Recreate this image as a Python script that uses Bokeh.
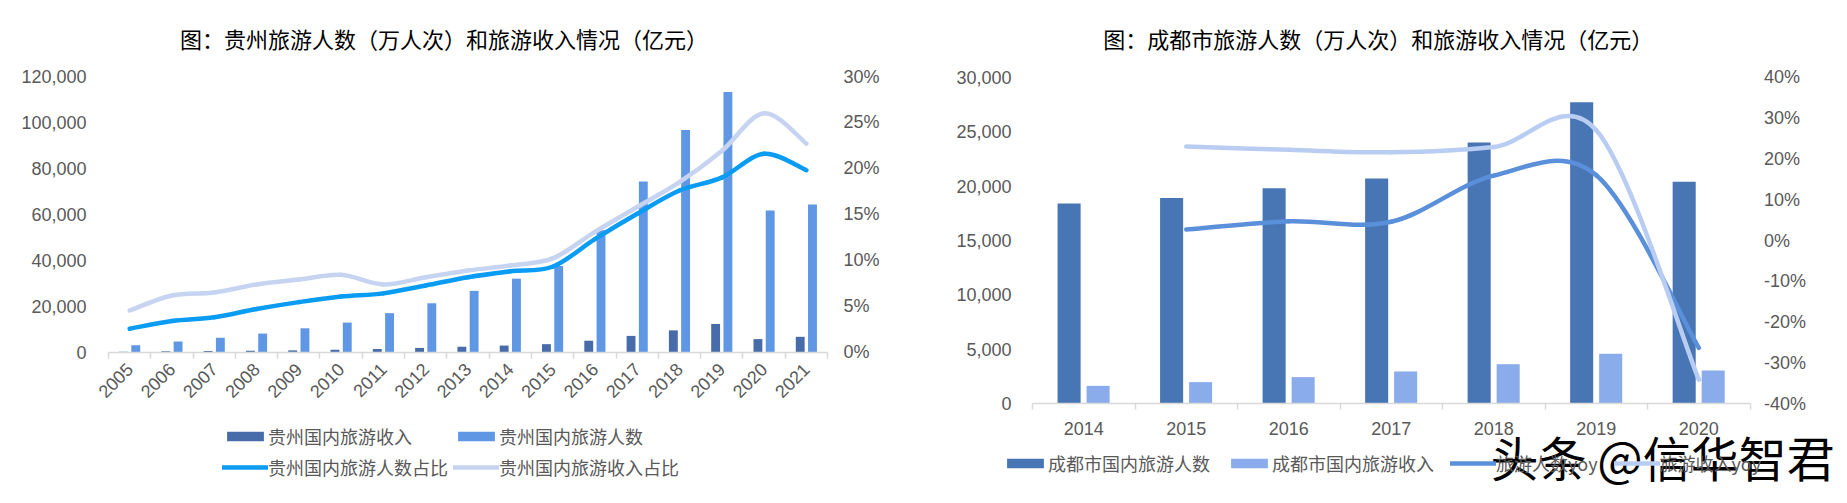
import math
from bokeh.plotting import figure
from bokeh.layouts import row
from bokeh.models import (ColumnDataSource, Range1d, LinearAxis, FixedTicker,
                          NumeralTickFormatter, PrintfTickFormatter, Label, Legend, LegendItem)
from bokeh.transform import dodge
from bokeh.embed import file_html
from bokeh.resources import INLINE

# ---------------- data: Guizhou ----------------
gz_years = ["2005", "2006", "2007", "2008", "2009", "2010", "2011", "2012", "2013",
            "2014", "2015", "2016", "2017", "2018", "2019", "2020", "2021"]
gz_income = [200, 390, 500, 650, 800, 1060, 1400, 1860, 2370, 2890, 3500,
             5000, 7100, 9500, 12300, 5700, 6700]            # 亿元
gz_visitors = [3000, 4700, 6300, 8100, 10400, 12900, 17000, 21300, 26700, 32000, 37500,
               53100, 74300, 96700, 113300, 61700, 64300]    # 万人次
gz_visitor_share = [2.55, 3.4, 3.8, 4.7, 5.45, 6.06, 6.4, 7.26, 8.16, 8.8, 9.3,
                    12.3, 15.06, 17.6, 19.0, 21.6, 19.8]      # %
gz_income_share = [4.54, 6.17, 6.5, 7.37, 7.9, 8.42, 7.37, 8.16, 8.89, 9.43, 10.2,
                   13.1, 15.8, 18.5, 21.9, 26.0, 22.7]        # %
gz_left_ticks = [0, 20000, 40000, 60000, 80000, 100000, 120000]
gz_right_ticks = [0, 5, 10, 15, 20, 25, 30]

# ---------------- data: Chengdu ----------------
cd_years = ["2014", "2015", "2016", "2017", "2018", "2019", "2020"]
cd_visitors = [18400, 18900, 19800, 20700, 24000, 27700, 20400]   # 万人次
cd_income = [1650, 1990, 2450, 2970, 3640, 4600, 3060]            # 亿元
cd_growth_years = ["2015", "2016", "2017", "2018", "2019", "2020"]
cd_visitor_growth = [2.7, 4.7, 4.6, 15.9, 16.0, -26.3]            # %
cd_income_growth = [23.0, 22.2, 21.6, 22.9, 27.0, -34.1]          # %
cd_left_ticks = [0, 5000, 10000, 15000, 20000, 25000, 30000]
cd_right_ticks = [-40, -30, -20, -10, 0, 10, 20, 30, 40]

GRAY = "#595959"
AXIS = "#D9D9D9"
NUM_FONT = "Liberation Sans"
CJK_FONT = "Noto Sans CJK SC"
H = 503


def xspan(v0, v1, px0, px1, width):
    """Range so that value v0 sits at pixel px0 and v1 at px1 (from left)."""
    k = (v1 - v0) / (px1 - px0)
    return Range1d(v0 - px0 * k, v1 + (width - px1) * k)


def yspan(v_top, v_bot, py_top, py_bot):
    """Range so that v_top sits at pixel py_top and v_bot at py_bot (from top)."""
    k = (v_top - v_bot) / (py_bot - py_top)
    return Range1d(v_bot - (H - py_bot) * k, v_top + py_top * k)


def smooth_segments(xs, ys):
    """Catmull-Rom style bezier control points (rendering only)."""
    n = len(xs)
    d = dict(x0=[], y0=[], x1=[], y1=[], cx0=[], cy0=[], cx1=[], cy1=[])
    for i in range(n - 1):
        xp, yp = (xs[i - 1], ys[i - 1]) if i > 0 else (xs[i], ys[i])
        xn, yn = (xs[i + 2], ys[i + 2]) if i + 2 < n else (xs[i + 1], ys[i + 1])
        d["x0"].append(xs[i]); d["y0"].append(ys[i])
        d["x1"].append(xs[i + 1]); d["y1"].append(ys[i + 1])
        d["cx0"].append(xs[i] + (xs[i + 1] - xp) / 6.0)
        d["cy0"].append(ys[i] + (ys[i + 1] - yp) / 6.0)
        d["cx1"].append(xs[i + 1] - (xn - xs[i]) / 6.0)
        d["cy1"].append(ys[i + 1] - (yn - ys[i]) / 6.0)
    return ColumnDataSource(d)


def new_fig(width, xr, yr):
    p = figure(width=width, height=H, output_backend="svg", toolbar_location=None,
               x_range=xr, y_range=yr, x_axis_location=None, y_axis_location=None,
               min_border_left=0, min_border_right=0, min_border_top=0, min_border_bottom=0)
    p.xgrid.visible = False
    p.ygrid.visible = False
    p.outline_line_color = None
    p.background_fill_color = "white"
    p.border_fill_color = "white"
    return p


def add_x(p, n, labels, standoff, orientation=None):
    ax = LinearAxis(fixed_location=0, bounds=(-0.5, n - 0.5))
    ax.ticker = FixedTicker(ticks=list(range(n)), minor_ticks=[k - 0.5 for k in range(n + 1)])
    ax.major_label_overrides = {k: lab for k, lab in enumerate(labels)}
    ax.major_tick_line_color = None
    ax.major_tick_out = 0
    ax.major_tick_in = 0
    ax.minor_tick_line_color = AXIS
    ax.minor_tick_line_width = 1.5
    ax.minor_tick_in = 0
    ax.minor_tick_out = 6
    ax.axis_line_color = AXIS
    ax.axis_line_width = 1.5
    ax.major_label_text_font = NUM_FONT
    ax.major_label_text_font_size = "18px"
    ax.major_label_text_color = GRAY
    ax.major_label_standoff = standoff
    if orientation is not None:
        ax.major_label_orientation = orientation
    p.add_layout(ax, "below")


def add_y(p, side, loc, ticks, fmt, standoff, range_name="default"):
    ax = LinearAxis(fixed_location=loc, y_range_name=range_name)
    ax.ticker = FixedTicker(ticks=ticks)
    ax.formatter = fmt
    ax.axis_line_color = None
    ax.major_tick_line_color = None
    ax.minor_tick_line_color = None
    ax.major_tick_out = 0
    ax.major_tick_in = 0
    ax.major_label_text_font = NUM_FONT
    ax.major_label_text_font_size = "18px"
    ax.major_label_text_color = GRAY
    ax.major_label_standoff = standoff
    p.add_layout(ax, side)


def style_legend(leg):
    leg.border_line_color = None
    leg.background_fill_alpha = 0
    leg.padding = 0
    leg.margin = 0
    leg.glyph_width = 46
    leg.glyph_height = 12
    leg.label_standoff = 0
    leg.label_text_font = CJK_FONT
    leg.label_text_font_size = "18px"
    leg.label_text_color = GRAY
    leg.label_height = 18


def bez(p, xs, ys, color, yr):
    return p.bezier(x0="x0", y0="y0", x1="x1", y1="y1", cx0="cx0", cy0="cy0",
                    cx1="cx1", cy1="cy1", source=smooth_segments(xs, ys),
                    line_color=color, line_width=4.5, line_cap="round", y_range_name=yr)


# ================= Left chart: Guizhou =================
n1 = len(gz_years)
W1 = 920
p1 = new_fig(W1, xspan(-0.5, n1 - 0.5, 108, 827, W1), yspan(120000, 0, 76, 351.7))
p1.extra_y_ranges = {"pct": yspan(30, 0, 76, 351.7)}

src1 = ColumnDataSource(dict(i=list(range(n1)), income=gz_income, visitors=gz_visitors))
r_inc = p1.vbar(x=dodge("i", -0.145), top="income", width=0.21, source=src1,
                fill_color="#476CA9", line_color=None)
r_vis = p1.vbar(x=dodge("i", 0.145), top="visitors", width=0.21, source=src1,
                fill_color="#5F97E5", line_color=None)
r_ishare = bez(p1, list(range(n1)), gz_income_share, "#C6D4F2", "pct")
r_vshare = bez(p1, list(range(n1)), gz_visitor_share, "#0A9CF2", "pct")

add_x(p1, n1, gz_years, 8, math.pi / 4)
add_y(p1, "left", -0.5, gz_left_ticks, NumeralTickFormatter(format="0,0"), 22)
add_y(p1, "right", n1 - 0.5, gz_right_ticks, PrintfTickFormatter(format="%d%%"), 16, "pct")

leg1 = Legend(items=[LegendItem(label="贵州国内旅游收入", renderers=[r_inc]),
                     LegendItem(label="贵州国内旅游人数", renderers=[r_vis]),
                     LegendItem(label="贵州国内旅游人数占比", renderers=[r_vshare]),
                     LegendItem(label="贵州国内旅游收入占比", renderers=[r_ishare])],
              location=(222, 23), orientation="horizontal", ncols=2)
style_legend(leg1)
leg1.spacing = 5
p1.add_layout(leg1)

p1.add_layout(Label(x=443.5, y=H - 37, x_units="screen", y_units="screen",
                    text="图：贵州旅游人数（万人次）和旅游收入情况（亿元）",
                    text_align="center", text_baseline="middle", text_font=CJK_FONT,
                    text_font_size="22px", text_color="#000000"))

# ================= Right chart: Chengdu =================
n2 = len(cd_years)
W2 = 927
p2 = new_fig(W2, xspan(-0.5, n2 - 0.5, 112, 829.6, W2), yspan(30000, 0, 76.7, 403.3))
p2.extra_y_ranges = {"pct": yspan(40, -40, 76.7, 403.3)}

src2 = ColumnDataSource(dict(i=list(range(n2)), visitors=cd_visitors, income=cd_income))
r2_vis = p2.vbar(x=dodge("i", -0.143), top="visitors", width=0.225, source=src2,
                 fill_color="#4876B4", line_color=None)
r2_inc = p2.vbar(x=dodge("i", 0.14), top="income", width=0.225, source=src2,
                 fill_color="#8BACEA", line_color=None)
gx = [cd_years.index(y) for y in cd_growth_years]
r2_vg = bez(p2, gx, cd_visitor_growth, "#5A8FDA", "pct")
r2_ig = bez(p2, gx, cd_income_growth, "#B9CDF2", "pct")

add_x(p2, n2, cd_years, 12)
add_y(p2, "left", -0.5, cd_left_ticks, NumeralTickFormatter(format="0,0"), 21)
add_y(p2, "right", n2 - 0.5, cd_right_ticks, PrintfTickFormatter(format="%d%%"), 14, "pct")

leg2 = Legend(items=[LegendItem(label="成都市国内旅游人数", renderers=[r2_vis]),
                     LegendItem(label="成都市国内旅游收入", renderers=[r2_inc]),
                     LegendItem(label="旅游人数yoy", renderers=[r2_vg]),
                     LegendItem(label="旅游收入yoy", renderers=[r2_ig])],
              location=(82, 27), orientation="horizontal")
style_legend(leg2)
leg2.spacing = 16
p2.add_layout(leg2)

p2.add_layout(Label(x=457.75, y=H - 37, x_units="screen", y_units="screen",
                    text="图：成都市旅游人数（万人次）和旅游收入情况（亿元）",
                    text_align="center", text_baseline="middle", text_font=CJK_FONT,
                    text_font_size="22px", text_color="#000000"))

# watermark overlay
p2.add_layout(Label(x=570, y=48, x_units="screen", y_units="screen",
                    text="头条 @信华智君", text_align="left", text_baseline="middle",
                    text_font=CJK_FONT, text_font_size="48px", text_color="#000000"))

layout = row(p1, p2, spacing=0)
open("out.html", "w").write(file_html(layout, INLINE))
